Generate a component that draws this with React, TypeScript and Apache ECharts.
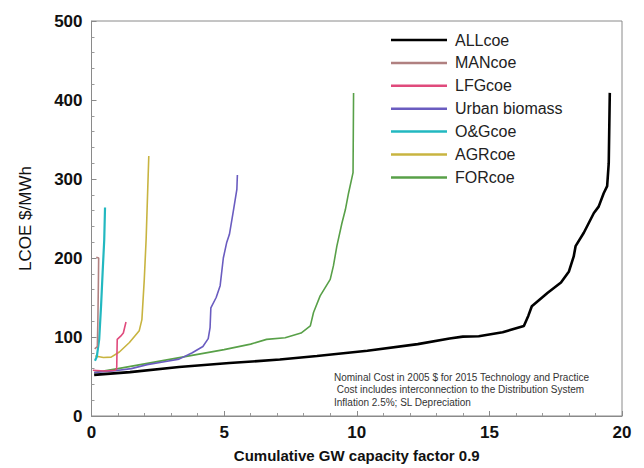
import React, { useEffect, useRef } from "react";
import * as echarts from "echarts";

const seriesNames = ["ALLcoe", "MANcoe", "LFGcoe", "Urban biomass", "O&Gcoe", "AGRcoe", "FORcoe"];

const allCoe: number[][] = [
  [0.1, 52], [1.45, 55.5], [3.3, 62], [5.2, 67], [7.1, 71.5], [8.5, 76], [10.4, 82.5],
  [12.3, 91], [13.5, 98], [14, 100.5], [14.6, 101], [15.5, 106], [16.3, 114], [16.47, 127],
  [16.6, 139], [17.2, 156], [17.7, 169], [18.0, 183], [18.18, 202], [18.25, 215], [18.56, 232],
  [18.94, 257], [19.12, 265], [19.31, 282], [19.44, 291], [19.5, 320], [19.54, 409],
];
const manCoe: number[][] = [
  [0.12, 85], [0.22, 88], [0.24, 120], [0.26, 170], [0.27, 200], [0.18, 201],
];
const lfgCoe: number[][] = [
  [0.05, 58], [0.5, 57], [0.9, 58], [0.95, 60], [0.97, 97], [1.1, 101], [1.2, 105], [1.25, 112], [1.3, 119],
];
const urbanBiomass: number[][] = [
  [0.1, 55], [0.8, 57], [1.5, 60], [2.1, 65], [2.8, 69], [3.3, 72], [3.8, 80], [4.2, 88],
  [4.4, 98], [4.47, 112], [4.5, 137], [4.7, 150], [4.85, 165], [4.97, 200], [5.1, 220],
  [5.2, 230], [5.35, 260], [5.48, 287], [5.5, 305],
];
const ogCoe: number[][] = [
  [0.13, 70], [0.2, 75], [0.29, 97], [0.36, 139], [0.42, 182], [0.48, 223], [0.51, 264],
];
const agrCoe: number[][] = [
  [0.14, 76], [0.45, 74], [0.74, 74.5], [1.05, 81], [1.43, 93], [1.8, 108], [1.9, 122],
  [1.99, 173], [2.06, 224], [2.12, 287], [2.16, 329],
];
const forCoe: number[][] = [
  [0.1, 55], [1, 60], [2, 66], [3, 72], [4, 78], [5, 84], [6, 91], [6.6, 97], [7.3, 99],
  [7.9, 105], [8.25, 114], [8.37, 131], [8.62, 152], [9.0, 173], [9.12, 190], [9.25, 215],
  [9.44, 244], [9.57, 261], [9.69, 282], [9.86, 308], [9.88, 409],
];

const seriesData = [allCoe, manCoe, lfgCoe, urbanBiomass, ogCoe, agrCoe, forCoe];
const seriesColors = ["#000000", "#b08080", "#e04a7c", "#6a5cc0", "#22b8c0", "#c8b440", "#58a048"];
const seriesWidths = [2.6, 1.6, 1.6, 1.6, 2.2, 1.6, 1.6];

const noteLines = [
  "Nominal Cost in 2005 $ for 2015 Technology and Practice",
  " Cost includes interconnection to the Distribution System",
  "Inflation 2.5%; SL Depreciation",
];

const FONT = "'Liberation Sans', Arial, sans-serif";

export default function App() {
  const ref = useRef<HTMLDivElement>(null);
  useEffect(() => {
    if (!ref.current) return;
    const chart = echarts.init(ref.current, null, { renderer: "svg" });
    chart.setOption({
      animation: false,
      backgroundColor: "#ffffff",
      textStyle: { fontFamily: FONT },
      grid: {
        left: 91.5, right: 22, top: 21, bottom: 51,
        show: true, borderColor: "#8a8a8a", borderWidth: 1,
      },
      legend: {
        orient: "vertical",
        left: 386,
        top: 27,
        itemWidth: 56,
        itemHeight: 2.5,
        itemGap: 6.9,
        icon: "rect",
        textStyle: { fontSize: 16, color: "#222", fontFamily: FONT, padding: [0, 0, 0, 3] },
        data: seriesNames,
      },
      xAxis: {
        type: "value",
        min: 0, max: 20, interval: 5,
        name: "Cumulative GW capacity factor 0.9",
        nameLocation: "middle",
        nameGap: 32,
        nameTextStyle: { fontSize: 15, fontWeight: "bold", color: "#111", fontFamily: FONT },
        axisLine: { lineStyle: { color: "#8a8a8a" } },
        axisTick: { inside: true, length: 5, lineStyle: { color: "#8a8a8a" } },
        minorTick: { show: true, splitNumber: 5, length: 3, lineStyle: { color: "#9a9a9a" } },
        axisLabel: { fontSize: 17, fontWeight: "bold", color: "#111", margin: 8, fontFamily: FONT },
        splitLine: { show: false },
      },
      yAxis: {
        type: "value",
        min: 0, max: 500, interval: 100,
        name: "LCOE $/MWh",
        nameLocation: "middle",
        nameGap: 58,
        nameTextStyle: { fontSize: 17, color: "#111", fontFamily: FONT },
        axisLine: { show: true, lineStyle: { color: "#8a8a8a" } },
        axisTick: { show: true, inside: true, length: 5, lineStyle: { color: "#8a8a8a" } },
        minorTick: { show: true, splitNumber: 5, length: 3, lineStyle: { color: "#9a9a9a" } },
        axisLabel: { fontSize: 17, fontWeight: "bold", color: "#111", margin: 9, fontFamily: FONT },
        splitLine: { show: false },
      },
      series: seriesNames.map((name, i) => ({
        name,
        type: "line",
        data: seriesData[i],
        showSymbol: false,
        symbol: "none",
        color: seriesColors[i],
        lineStyle: { color: seriesColors[i], width: seriesWidths[i] },
        z: 10 - i,
      })),
      graphic: noteLines.map((t, i) => ({
        type: "text",
        left: 334,
        top: 372 + i * 12.5,
        style: { text: t, fontSize: 10, fill: "#333", fontFamily: FONT },
      })),
    });
    return () => chart.dispose();
  }, []);
  return (
    <div
      ref={ref}
      style={{ position: "fixed", left: 0, top: 0, width: 644, height: 468 }}
    />
  );
}
